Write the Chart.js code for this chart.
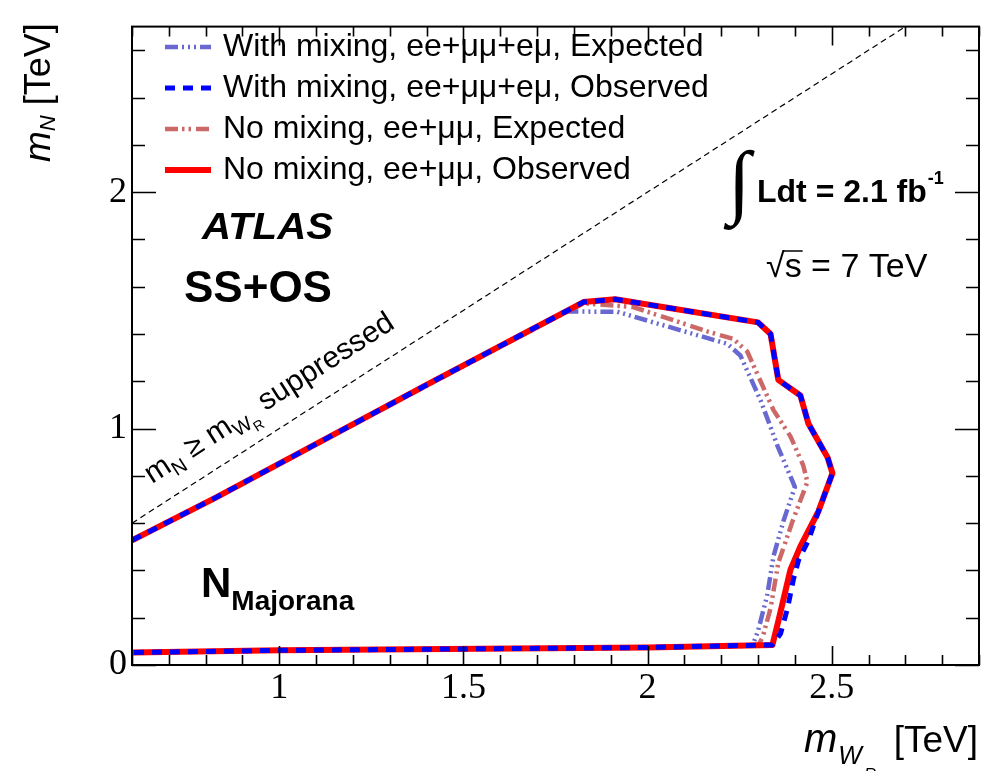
<!DOCTYPE html>
<html>
<head>
<meta charset="utf-8">
<script src="https://cdn.jsdelivr.net/npm/chart.js@4.4.0/dist/chart.umd.min.js"></script>
<style>
  html, body { margin: 0; padding: 0; background: #fff; }
  #wrap { width: 993px; height: 771px; position: relative; }
</style>
</head>
<body>
<div id="wrap"><canvas id="c"></canvas></div>
<script>
// axis ticks (TeV)
const xTicks = [1, 1.5, 2, 2.5];
const yTicks = [0, 1, 2];

// observed limit, with mixing (ee+mumu+emu) - blue dashed
const obsMixX = [0.6, 0.83, 1.41, 1.826, 1.912, 2.30, 2.334, 2.355, 2.415, 2.437, 2.489, 2.502, 2.464, 2.437, 2.41, 2.396, 2.38, 2.361, 2.339, 2.0, 1.0, 0.6];
const obsMixY = [0.527, 0.71, 1.193, 1.535, 1.547, 1.449, 1.40, 1.206, 1.14, 1.02, 0.877, 0.811, 0.650, 0.527, 0.444, 0.362, 0.239, 0.132, 0.085, 0.074, 0.062, 0.053];

// observed limit, no mixing (ee+mumu) - red solid
const obsNoMixX = [0.6, 0.83, 1.41, 1.826, 1.912, 2.30, 2.334, 2.355, 2.415, 2.437, 2.489, 2.502, 2.464, 2.415, 2.388, 2.355, 2.339, 2.0, 1.0, 0.6];
const obsNoMixY = [0.527, 0.71, 1.193, 1.535, 1.547, 1.449, 1.40, 1.206, 1.14, 1.02, 0.877, 0.811, 0.650, 0.502, 0.403, 0.185, 0.085, 0.074, 0.062, 0.053];

// expected limit, with mixing
const expMixX = [0.6, 0.83, 1.41, 1.78, 1.918, 2.016, 2.217, 2.252, 2.307, 2.353, 2.40, 2.369, 2.342, 2.325, 2.30, 2.285, 2.0, 1.0, 0.6];
const expMixY = [0.527, 0.71, 1.19, 1.495, 1.494, 1.449, 1.358, 1.309, 1.119, 0.926, 0.753, 0.609, 0.46, 0.296, 0.144, 0.082, 0.074, 0.062, 0.053];

// expected limit, no mixing
const expNoMixX = [0.6, 0.83, 1.41, 1.826, 1.961, 2.162, 2.233, 2.271, 2.342, 2.388, 2.423, 2.434, 2.393, 2.355, 2.334, 2.312, 2.30, 2.0, 1.0, 0.6];
const expNoMixY = [0.527, 0.71, 1.193, 1.53, 1.514, 1.411, 1.379, 1.325, 1.078, 0.967, 0.843, 0.774, 0.605, 0.432, 0.239, 0.115, 0.082, 0.074, 0.062, 0.053];

// m_N = m_WR boundary
const diagX = [0.6, 2.7];
const diagY = [0.6, 2.7];

const SANS = "'Liberation Sans', Arial, sans-serif";
const SERIF = "'Liberation Serif', 'Times New Roman', serif";

function toPts(xs, ys) {
  return xs.map((x, i) => ({ x: x, y: ys[i] }));
}

/* ---------- frame, ticks, legend and labels ---------- */
function txt(ctx, s, x, y, font, align) {
  ctx.font = font;
  ctx.textAlign = align || 'left';
  ctx.fillText(s, x, y);
  return ctx.measureText(s).width;
}

// text squeezed/stretched to a given width
function fitTxt(ctx, s, x, y, font, width) {
  ctx.font = font;
  ctx.textAlign = 'left';
  const k = width / ctx.measureText(s).width;
  ctx.save();
  ctx.translate(x, y);
  ctx.scale(k, 1);
  ctx.fillText(s, 0, 0);
  ctx.restore();
}

const decor = {
  id: 'decor',
  afterDraw(chart) {
    const ctx = chart.ctx, a = chart.chartArea;
    const sx = chart.scales.x, sy = chart.scales.y;
    ctx.save();
    ctx.strokeStyle = '#000';
    ctx.fillStyle = '#000';

    // ticks pointing inward on all sides
    ctx.lineWidth = 1.6;
    ctx.beginPath();
    for (let v = 0.6; v <= 2.9001; v += 0.1) {
      const major = xTicks.some(t => Math.abs(t - v) < 1e-6);
      const len = major ? 19 : 10;
      const px = Math.round(sx.getPixelForValue(v)) + 0.5;
      ctx.moveTo(px, a.bottom); ctx.lineTo(px, a.bottom - len);
      ctx.moveTo(px, a.top); ctx.lineTo(px, a.top + len);
    }
    for (let v = 0; v <= 2.7001; v += 0.2) {
      const major = yTicks.some(t => Math.abs(t - v) < 1e-6);
      const len = major ? 24 : 13;
      const py = Math.round(sy.getPixelForValue(v)) + 0.5;
      ctx.moveTo(a.left, py); ctx.lineTo(a.left + len, py);
      ctx.moveTo(a.right, py); ctx.lineTo(a.right - len, py);
    }
    ctx.stroke();

    ctx.lineWidth = 2;
    ctx.strokeRect(a.left, a.top, a.right - a.left, a.bottom - a.top);

    // legend
    const order = [2, 0, 3, 1];
    const rowY = [47, 88, 129, 170];
    order.forEach((di, r) => {
      const ds = chart.data.datasets[di];
      ctx.save();
      ctx.strokeStyle = ds.borderColor;
      ctx.lineWidth = ds.borderWidth;
      ctx.setLineDash(ds.borderDash || []);
      ctx.beginPath();
      ctx.moveTo(165, rowY[r]);
      ctx.lineTo(211, rowY[r]);
      ctx.stroke();
      ctx.restore();
      txt(ctx, ds.label, 223, rowY[r] + 9, '32px ' + SANS);
    });

    // ATLAS labels
    fitTxt(ctx, 'ATLAS', 202, 239, 'italic bold 36px ' + SANS, 131);
    txt(ctx, 'SS+OS', 184, 302, 'bold 44px ' + SANS);
    let w = txt(ctx, 'N', 201, 597, 'bold 42px ' + SANS);
    txt(ctx, 'Majorana', 201 + w, 610, 'bold 28px ' + SANS);

    // luminosity and energy
    txt(ctx, '\u222B', 728, 208, '82px ' + SERIF);
    w = txt(ctx, 'Ldt = 2.1 fb', 757, 202, 'bold 32px ' + SANS);
    txt(ctx, '-1', 757 + w + 1, 184, 'bold 18px ' + SANS);
    w = txt(ctx, '\u221A', 766, 277, '34px ' + SANS);
    const sw = txt(ctx, 's', 766 + w, 277, '34px ' + SANS);
    ctx.lineWidth = 1.5;
    ctx.beginPath();
    ctx.moveTo(766 + w - 1, 251); ctx.lineTo(766 + w + sw + 1, 251);
    ctx.stroke();
    txt(ctx, ' = 7 TeV', 766 + w + sw, 277, '34px ' + SANS);

    // boundary annotation along m_N = m_WR
    const p0x = sx.getPixelForValue(0.6), p0y = sy.getPixelForValue(0.6);
    const p1x = sx.getPixelForValue(2.7), p1y = sy.getPixelForValue(2.7);
    const ang = Math.atan2(p1y - p0y, p1x - p0x);
    ctx.save();
    ctx.translate(152, 484);
    ctx.rotate(ang);
    let x = 0;
    x += txt(ctx, 'm', x, 0, '30px ' + SANS);
    x += txt(ctx, 'N', x, 7, '20px ' + SANS);
    x += txt(ctx, ' \u2265 ', x, 0, '30px ' + SANS);
    x += txt(ctx, 'm', x, 0, '30px ' + SANS);
    x += txt(ctx, 'W', x, 7, '20px ' + SANS);
    x += txt(ctx, 'R', x, 13, '14px ' + SANS);
    txt(ctx, ' suppressed', x, 0, '30px ' + SANS);
    ctx.restore();

    // y axis title
    ctx.save();
    ctx.translate(50, 162);
    ctx.rotate(-Math.PI / 2);
    x = 0;
    x += txt(ctx, 'm', x, 0, 'italic 37px ' + SANS);
    x += txt(ctx, 'N', x, 5, 'italic 22px ' + SANS);
    txt(ctx, ' [TeV]', x, 0, '36px ' + SANS);
    ctx.restore();

    // x axis title
    x = 804;
    x += txt(ctx, 'm', x, 752, 'italic 40px ' + SANS);
    x += txt(ctx, 'W', x + 1, 764, 'italic 25px ' + SANS);
    txt(ctx, 'R', x + 3, 780, 'italic 17px ' + SANS);
    txt(ctx, '[TeV]', 978, 752, '37px ' + SANS, 'right');

    ctx.restore();
  }
};

const datasets = [
  {
    label: 'With mixing, ee+\u03BC\u03BC+e\u03BC, Observed',
    data: toPts(obsMixX, obsMixY),
    borderColor: '#0000ff', borderWidth: 5, borderDash: [10, 8]
  },
  {
    label: 'No mixing, ee+\u03BC\u03BC, Observed',
    data: toPts(obsNoMixX, obsNoMixY),
    borderColor: '#ff0000', borderWidth: 6
  },
  {
    label: 'With mixing, ee+\u03BC\u03BC+e\u03BC, Expected',
    data: toPts(expMixX, expMixY),
    borderColor: '#6868d0', borderWidth: 4.5, borderDash: [13, 4, 2, 4, 2, 4, 2, 4]
  },
  {
    label: 'No mixing, ee+\u03BC\u03BC, Expected',
    data: toPts(expNoMixX, expNoMixY),
    borderColor: '#cc6868', borderWidth: 4.5, borderDash: [13, 4, 2.5, 4, 2.5, 5]
  },
  {
    label: 'diag',
    data: toPts(diagX, diagY),
    borderColor: '#000', borderWidth: 1.2, borderDash: [6, 4]
  }
].map(d => Object.assign({
  showLine: true, pointRadius: 0, fill: false, tension: 0,
  borderJoinStyle: 'round'
}, d));

new Chart(document.getElementById('c'), {
  type: 'scatter',
  data: { datasets: datasets },
  options: {
    responsive: true,
    maintainAspectRatio: false,
    animation: false,
    layout: { padding: { top: 8, right: 14, left: 0, bottom: 0 } },
    plugins: { legend: { display: false }, tooltip: { enabled: false } },
    scales: {
      x: {
        type: 'linear', min: 0.6, max: 2.9,
        grid: { display: false, drawTicks: false },
        border: { display: false },
        afterBuildTicks: s => { s.ticks = xTicks.map(v => ({ value: v })); },
        afterFit: s => { s.height = 106; },
        ticks: {
          padding: 2, color: '#000', maxRotation: 0,
          font: { family: SERIF, size: 36 },
          callback: v => String(v)
        }
      },
      y: {
        type: 'linear', min: 0, max: 2.7,
        grid: { display: false, drawTicks: false },
        border: { display: false },
        afterBuildTicks: s => { s.ticks = yTicks.map(v => ({ value: v })); },
        afterFit: s => { s.width = 132; },
        ticks: {
          padding: 5, color: '#000',
          font: { family: SERIF, size: 36 },
          callback: v => String(v)
        }
      }
    }
  },
  plugins: [decor]
});
</script>
</body>
</html>
